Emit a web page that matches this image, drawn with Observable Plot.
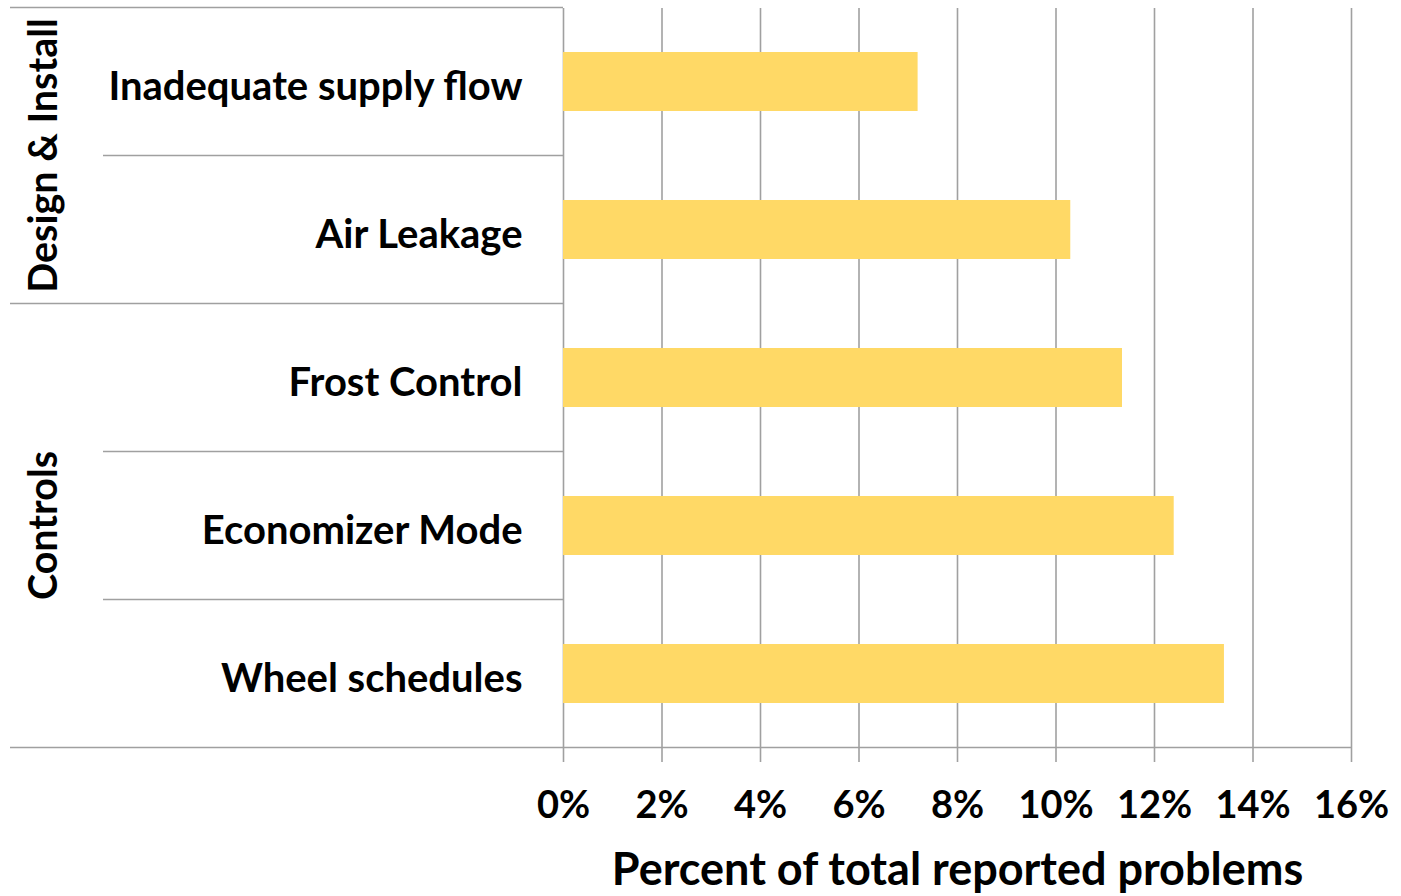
<!DOCTYPE html>
<html>
<head>
<meta charset="utf-8">
<script src="https://cdn.jsdelivr.net/npm/d3@7"></script>
<script src="https://cdn.jsdelivr.net/npm/@observablehq/plot@0.6"></script>
<style>
  html, body { margin: 0; padding: 0; background: #fff; }
  #chart svg { display: block; font-family: Lato, "Open Sans", sans-serif; font-weight: 700; }
</style>
</head>
<body>
<div id="chart"></div>
<script>
const categories = ["Inadequate supply flow", "Air Leakage", "Frost Control", "Economizer Mode", "Wheel schedules"];
const values = [7.2, 10.3, 11.35, 12.4, 13.42];
const groups = ["Design & Install", "Design & Install", "Controls", "Controls", "Controls"];
const groupNames = ["Design & Install", "Controls"];
const xTicks = [0, 2, 4, 6, 8, 10, 12, 14, 16];
const xTitle = "Percent of total reported problems";

(function () {
const data = categories.map((c, i) => ({category: c, value: values[i], group: groups[i]}));

const W = 1401, H = 896;
const mTop = 8, mLeft = 563, mRight = 50, mBottom = 148;
const gridColor = "#a0a0a0";

const plot = Plot.plot({
  width: W,
  height: H,
  marginTop: mTop,
  marginLeft: mLeft,
  marginRight: mRight,
  marginBottom: mBottom,
  style: {fontFamily: "Lato, 'Open Sans', sans-serif", fontWeight: 700, color: "#000", background: "#fff"},
  x: {domain: [0, 16], ticks: xTicks, tickFormat: d => d + "%"},
  y: {domain: categories, paddingInner: 0.6, paddingOuter: 0.3},
  marks: [
    Plot.ruleX(xTicks, {x: d => d, stroke: gridColor, strokeWidth: 1.6, strokeOpacity: 1}),
    Plot.barX(data, {x: "value", y: "category", fill: "#FFD966"}),
    Plot.axisX({ticks: xTicks, tickFormat: d => d + "%", tickSize: 14, tickPadding: 29, fontSize: 38, stroke: gridColor, strokeWidth: 1.6, strokeOpacity: 1, label: null}),
    Plot.axisY({tickSize: 0, tickPadding: 41, fontSize: 40, dy: 5, label: null}),
    Plot.text([xTitle], {frameAnchor: "bottom", dy: 122, fontSize: 45, fontWeight: 700, lineAnchor: "middle", fill: "#000"})
  ]
});

document.getElementById("chart").appendChild(plot);

const ys = plot.scale("y");
const step = ys.step;
const bw = ys.bandwidth;
const bandTop = cat => ys.apply(cat) - (step - bw) / 2;
const bandBottom = cat => ys.apply(cat) + bw + (step - bw) / 2;
const svg = d3.select(plot);
const g = svg.append("g").attr("stroke", gridColor).attr("stroke-width", 1.6);
const xLeftOuter = 10, xLeftInner = 103;
const x0 = plot.scale("x").apply(0);
const x16 = plot.scale("x").apply(16);

g.append("line").attr("x1", xLeftOuter).attr("x2", x0).attr("y1", bandTop(categories[0])).attr("y2", bandTop(categories[0]));
const yb = bandBottom(categories[categories.length - 1]);
g.append("line").attr("x1", xLeftOuter).attr("x2", x16).attr("y1", yb).attr("y2", yb);
for (let i = 1; i < categories.length; i++) {
  const y = bandTop(categories[i]);
  const isGroupBreak = groups[i] !== groups[i - 1];
  g.append("line").attr("x1", isGroupBreak ? xLeftOuter : xLeftInner).attr("x2", x0).attr("y1", y).attr("y2", y);
}
groupNames.forEach(name => {
  const cats = categories.filter((c, i) => groups[i] === name);
  const yc = (bandTop(cats[0]) + bandBottom(cats[cats.length - 1])) / 2;
  svg.append("text")
    .attr("transform", `translate(${43},${yc}) rotate(-90)`)
    .attr("text-anchor", "middle")
    .attr("dy", "0.35em")
    .attr("font-size", 39.5)
    .attr("font-weight", 700)
    .attr("fill", "#000")
    .text(name);
});
})();
</script>
</body>
</html>
